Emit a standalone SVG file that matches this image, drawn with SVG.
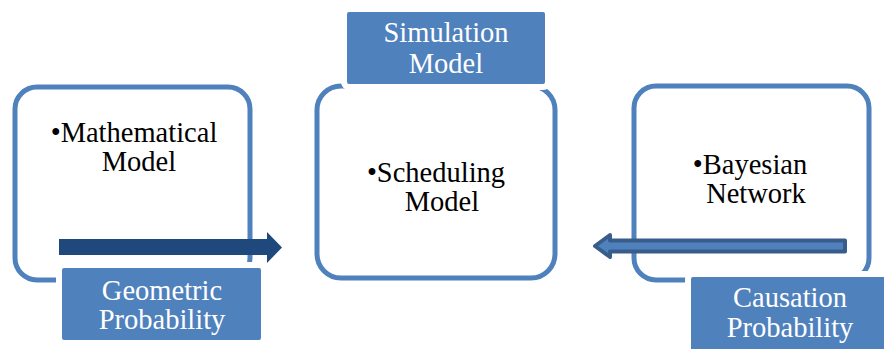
<svg xmlns="http://www.w3.org/2000/svg" width="884" height="349" viewBox="0 0 884 349">
  <style>
    .box { fill: #ffffff; stroke: #4f81bd; stroke-width: 5; }
    .lbl { fill: #4f81bd; stroke: #ffffff; stroke-width: 6; }
    .dark { fill: #000000; }
    .light { fill: #ffffff; }
  </style>
  <rect width="884" height="349" fill="#ffffff"/>
  <g id="node-math">
    <rect class="box" x="15" y="87" width="235" height="193" rx="22"/>
    <text class="dark" font-family="'Liberation Serif', 'Times New Roman', 'DejaVu Serif', serif" font-size="28.5" text-anchor="middle" x="134" y="142">•Mathematical</text>
    <text class="dark" font-family="'Liberation Serif', 'Times New Roman', 'DejaVu Serif', serif" font-size="28.5" text-anchor="middle" x="139" y="171">Model</text>
  </g>
  <g id="node-sched">
    <rect class="box" x="317" y="86" width="238" height="192" rx="24"/>
    <text class="dark" font-family="'Liberation Serif', 'Times New Roman', 'DejaVu Serif', serif" font-size="28.5" text-anchor="middle" x="436" y="182">•Scheduling</text>
    <text class="dark" font-family="'Liberation Serif', 'Times New Roman', 'DejaVu Serif', serif" font-size="28.5" text-anchor="middle" x="442" y="211">Model</text>
  </g>
  <g id="node-bayes">
    <rect class="box" x="634" y="86" width="235" height="194" rx="22"/>
    <text class="dark" font-family="'Liberation Serif', 'Times New Roman', 'DejaVu Serif', serif" font-size="28.5" text-anchor="middle" x="750" y="174">•Bayesian</text>
    <text class="dark" font-family="'Liberation Serif', 'Times New Roman', 'DejaVu Serif', serif" font-size="28.5" text-anchor="middle" x="756" y="203">Network</text>
  </g>
  <g id="connectors">
    <path d="M59,239 H267 V232 L282,247.5 L267,263 V255 H59 Z" fill="#1f497d"/>
    <path d="M845,240.5 H610 V235 L595,246 L610,257 V251.5 H845 Z" fill="#4f81bd" stroke="#385d8a" stroke-width="4" stroke-linejoin="round"/>
  </g>
  <g id="label-sim">
    <rect class="lbl" x="344" y="9" width="204" height="78" rx="5"/>
    <text class="light" font-family="'Liberation Serif', 'Times New Roman', 'DejaVu Serif', serif" font-size="28.5" text-anchor="middle" x="446" y="42">Simulation</text>
    <text class="light" font-family="'Liberation Serif', 'Times New Roman', 'DejaVu Serif', serif" font-size="28.5" text-anchor="middle" x="446" y="73">Model</text>
  </g>
  <g id="label-geo">
    <rect class="lbl" x="59" y="265" width="205" height="78" rx="5"/>
    <text class="light" font-family="'Liberation Serif', 'Times New Roman', 'DejaVu Serif', serif" font-size="28.5" text-anchor="middle" x="162" y="300">Geometric</text>
    <text class="light" font-family="'Liberation Serif', 'Times New Roman', 'DejaVu Serif', serif" font-size="28.5" text-anchor="middle" x="162" y="329">Probability</text>
  </g>
  <g id="label-cause">
    <rect class="lbl" x="688" y="274" width="210" height="90" rx="5"/>
    <text class="light" font-family="'Liberation Serif', 'Times New Roman', 'DejaVu Serif', serif" font-size="28.5" text-anchor="middle" x="790" y="307">Causation</text>
    <text class="light" font-family="'Liberation Serif', 'Times New Roman', 'DejaVu Serif', serif" font-size="28.5" text-anchor="middle" x="790" y="337">Probability</text>
  </g>
</svg>
